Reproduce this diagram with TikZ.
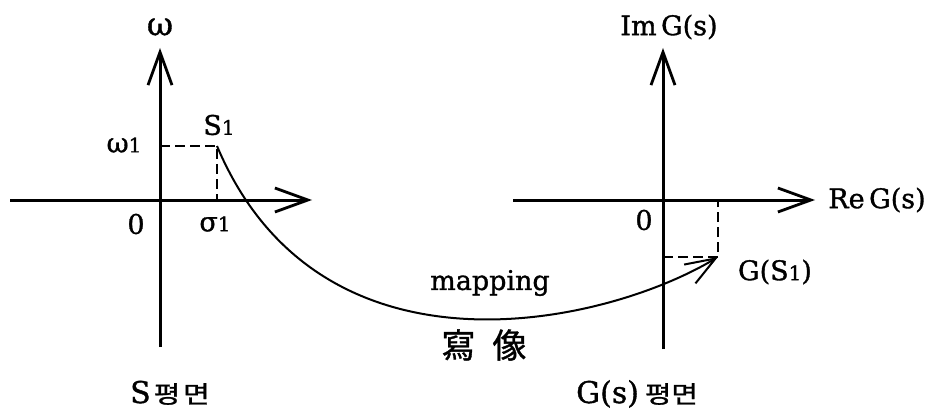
\documentclass[tikz,border=0pt]{standalone}
\usepackage{fontspec}
\usepackage{graphicx}
\setmainfont{DejaVu Serif}[FakeBold=1.2]
\newfontfamily\krfont{Noto Sans CJK KR}[FakeBold=1]
\usetikzlibrary{arrows.meta}
\newcommand\subone{{\fontsize{20}{20}\selectfont 1}}
\newcommand\pyeong[1]{{\fontsize{24}{28}\selectfont\krfont\scalebox{1.2}[1]{평}\hspace{#1}\scalebox{1.2}[1]{면}}}
\begin{document}
\begin{tikzpicture}[x=1pt,y=-1pt,
  axis/.style={line width=3pt,-{Straight Barb[length=33pt,width=24pt,line width=2.8pt]}},
  dashline/.style={line width=2.3pt,dash pattern=on 10pt off 5pt},
  curve/.style={line width=2pt,-{Straight Barb[length=30pt,width=22pt,line width=2pt]}},
  lbl/.style={inner sep=0pt,font=\fontsize{27}{30}\selectfont}
]
\useasboundingbox (0,0) rectangle (929,417);
% left plane
\coordinate (lxs) at (10,200);
\coordinate (lxe) at (312,200);
\coordinate (lys) at (160,347);
\coordinate (lye) at (160,48);
\coordinate (lo) at (160,200);
\coordinate (S1) at (217,146);
\coordinate (s1w) at (160,146);
\coordinate (s1s) at (217,200);
\draw[axis] (lxs) -- (lxe);
\draw[axis] (lys) -- (lye);
\draw[dashline] (s1w) -- (S1) -- (s1s);
% right plane
\coordinate (rxs) at (513,200);
\coordinate (rxe) at (815,200);
\coordinate (rys) at (663,349);
\coordinate (rye) at (663,48);
\coordinate (G1) at (718,257);
\coordinate (g1w) at (663,257);
\coordinate (g1n) at (718,200);
\draw[axis] (rxs) -- (rxe);
\draw[axis] (rys) -- (rye);
\draw[dashline] (g1w) -- (G1) -- (g1n);
% mapping curve
\draw[curve] (S1) .. controls (320,390) and (605,325) .. (G1);
% labels
\node[inner sep=0pt,font=\fontsize{32}{34}\selectfont] (lw) at (160,27) {ω};
\node[lbl] (lw1) at (124,145) {ω\subone};
\node[lbl] (ls1) at (219,125) {S\subone};
\node[lbl] (l0) at (136,224) {0};
\node[lbl] (lsig) at (215,224) {σ\subone};
\node[lbl] (im) at (669,27) {Im\,G(s)};
\node[lbl] (re) at (877,200) {Re\,G(s)};
\node[lbl] (r0) at (644,220) {0};
\node[lbl] (gs1) at (775,272) {G(S\subone)};
\node[inner sep=0pt,font=\fontsize{27}{30}\selectfont] (map) at (490,283) {mapping};
\node[inner sep=0pt,font=\fontsize{34}{40}\selectfont\krfont] (hanja) at (484,345) {寫\hspace{0.5em}像};
\node[inner sep=0pt,anchor=base west] (sp) at (130,403) {{\fontsize{30}{34}\selectfont S}\hspace{3pt}\pyeong{3pt}};
\node[inner sep=0pt,anchor=base west] (gp) at (576,403) {{\fontsize{30}{34}\selectfont G(s)}\hspace{6pt}\pyeong{0pt}};
\end{tikzpicture}
\end{document}
